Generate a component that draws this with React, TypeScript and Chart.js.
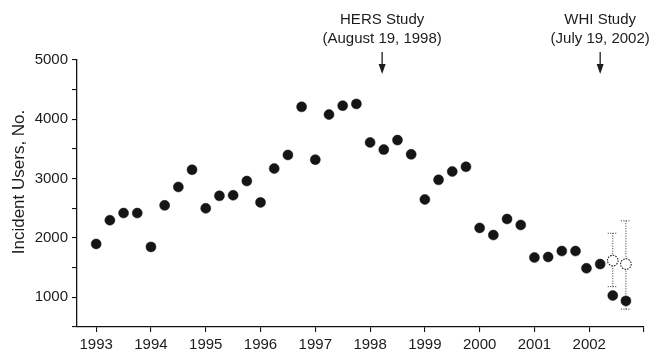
import React, { useEffect, useRef } from "react";
import { Chart, registerables } from "chart.js";

Chart.register(...registerables);

const yearTicks = [1993, 1994, 1995, 1996, 1997, 1998, 1999, 2000, 2001, 2002, 2003];
const quarterX = [
  1993, 1993.25, 1993.5, 1993.75,
  1994, 1994.25, 1994.5, 1994.75,
  1995, 1995.25, 1995.5, 1995.75,
  1996, 1996.25, 1996.5, 1996.75,
  1997, 1997.25, 1997.5, 1997.75,
  1998, 1998.25, 1998.5, 1998.75,
  1999, 1999.25, 1999.5, 1999.75,
  2000, 2000.25, 2000.5, 2000.75,
  2001, 2001.25, 2001.5, 2001.75,
  2001.95, 2002.2,
];
const incidentUsers = [
  1900, 2300, 2420, 2420,
  1850, 2550, 2860, 3150,
  2500, 2710, 2720, 2960,
  2600, 3170, 3400, 4210,
  3320, 4080, 4230, 4260,
  3610, 3490, 3650, 3410,
  2650, 2980, 3120, 3200,
  2170, 2050, 2320, 2220,
  1670, 1680, 1780, 1780,
  1490, 1560,
];
const lateX = [2002.43, 2002.67];
const observedLate = [1030, 940];
const projectedLate = [1620, 1560];
const projectedLow = [1180, 800];
const projectedHigh = [2080, 2290];

const annotationX = [1998.22, 2002.2];
const annotationLines = [
  ["HERS Study", "(August 19, 1998)"],
  ["WHI Study", "(July 19, 2002)"],
];
const yTitle = "Incident Users, No.";

const FONT = '"Liberation Sans", Arial, Helvetica, sans-serif';
const INK = "#1c1c1c";

const overlayPlugin = {
  id: "overlay",
  beforeDatasetsDraw(chart: any) {
    const { ctx, scales } = chart;
    const x = scales.x;
    const y = scales.y;
    ctx.save();
    ctx.strokeStyle = "#333";
    ctx.lineWidth = 1;
    ctx.setLineDash([1, 1.5]);
    for (let i = 0; i < lateX.length; i++) {
      const px = x.getPixelForValue(lateX[i]);
      const pLo = y.getPixelForValue(projectedLow[i]);
      const pHi = y.getPixelForValue(projectedHigh[i]);
      ctx.beginPath();
      ctx.moveTo(px, pLo);
      ctx.lineTo(px, pHi);
      ctx.moveTo(px - 5, pHi);
      ctx.lineTo(px + 5, pHi);
      ctx.moveTo(px - 5, pLo);
      ctx.lineTo(px + 5, pLo);
      ctx.stroke();
    }
    ctx.restore();
  },
  afterDatasetsDraw(chart: any) {
    const { ctx, scales } = chart;
    const x = scales.x;
    const y = scales.y;
    ctx.save();
    ctx.strokeStyle = "#222";
    ctx.lineWidth = 1.1;
    ctx.setLineDash([1.5, 1.2]);
    for (let i = 0; i < lateX.length; i++) {
      const px = x.getPixelForValue(lateX[i]);
      const py = y.getPixelForValue(projectedLate[i]);
      ctx.beginPath();
      ctx.arc(px, py, 5.3, 0, Math.PI * 2);
      ctx.stroke();
    }
    ctx.setLineDash([]);
    ctx.fillStyle = INK;
    ctx.strokeStyle = INK;
    ctx.font = `15px ${FONT}`;
    ctx.textAlign = "center";
    ctx.textBaseline = "middle";
    for (let i = 0; i < annotationX.length; i++) {
      const px = x.getPixelForValue(annotationX[i]);
      ctx.fillText(annotationLines[i][0], px, 20);
      ctx.fillText(annotationLines[i][1], px, 39);
      ctx.lineWidth = 1.3;
      ctx.beginPath();
      ctx.moveTo(px, 52);
      ctx.lineTo(px, 66);
      ctx.stroke();
      ctx.beginPath();
      ctx.moveTo(px - 3.5, 64);
      ctx.lineTo(px + 3.5, 64);
      ctx.lineTo(px, 74);
      ctx.closePath();
      ctx.fill();
    }
    ctx.font = `17px ${FONT}`;
    ctx.translate(19, 182);
    ctx.rotate(-Math.PI / 2);
    ctx.fillText(yTitle, 0, 0);
    ctx.restore();
  },
};

export default function App() {
  const ref = useRef<HTMLCanvasElement | null>(null);

  useEffect(() => {
    document.body.style.margin = "0";
    if (!ref.current) return;
    const chart = new Chart(ref.current, {
      type: "scatter",
      data: {
        datasets: [
          {
            label: "Incident users",
            data: quarterX.map((xv, i) => ({ x: xv, y: incidentUsers[i] })),
            pointRadius: 5,
            pointBackgroundColor: "#151515",
            pointBorderColor: "#151515",
            pointBorderWidth: 0.5,
          },
          {
            label: "Observed",
            data: lateX.map((xv, i) => ({ x: xv, y: observedLate[i] })),
            pointRadius: 5,
            pointBackgroundColor: "#151515",
            pointBorderColor: "#151515",
            pointBorderWidth: 0.5,
          },
          {
            label: "Projected",
            data: lateX.map((xv, i) => ({ x: xv, y: projectedLate[i] })),
            pointRadius: 5.3,
            pointBackgroundColor: "#ffffff",
            pointBorderColor: "rgba(0,0,0,0)",
            pointBorderWidth: 0,
          },
        ],
      },
      options: {
        responsive: false,
        animation: false,
        layout: { padding: { top: 60, right: 18, left: 0, bottom: 0 } },
        plugins: {
          legend: { display: false },
          tooltip: { enabled: false },
          title: { display: false },
        },
        scales: {
          x: {
            type: "linear",
            min: 1992.65,
            max: 2003,
            afterBuildTicks: (scale: any) => {
              scale.ticks = yearTicks.map((v) => ({ value: v }));
            },
            afterFit: (scale: any) => {
              scale.height = 25;
            },
            border: { display: true, color: "#111", width: 1.3 },
            grid: {
              drawOnChartArea: false,
              drawTicks: true,
              tickLength: 5,
              color: "#111",
              lineWidth: 1.1,
            },
            ticks: {
              autoSkip: false,
              maxRotation: 0,
              padding: 4,
              color: INK,
              font: { family: FONT, size: 15 },
              callback: (v: any) => (v === 2003 ? "" : String(v)),
            },
          },
          y: {
            type: "linear",
            min: 500,
            max: 5000,
            afterFit: (scale: any) => {
              scale.width = 77;
            },
            border: { display: true, color: "#111", width: 1.3 },
            grid: {
              drawOnChartArea: false,
              drawTicks: true,
              tickLength: 5,
              color: "#111",
              lineWidth: 1.1,
            },
            ticks: {
              stepSize: 500,
              autoSkip: false,
              padding: 4,
              color: INK,
              font: { family: FONT, size: 15 },
              callback: (v: any) => (v % 1000 === 0 && v > 500 ? String(v) : ""),
            },
          },
        },
      },
      plugins: [overlayPlugin],
    } as any);
    return () => chart.destroy();
  }, []);

  return (
    <div style={{ position: "absolute", left: 0, top: 0, width: 662, height: 352, background: "#fff" }}>
      <canvas ref={ref} width={662} height={352} />
    </div>
  );
}
